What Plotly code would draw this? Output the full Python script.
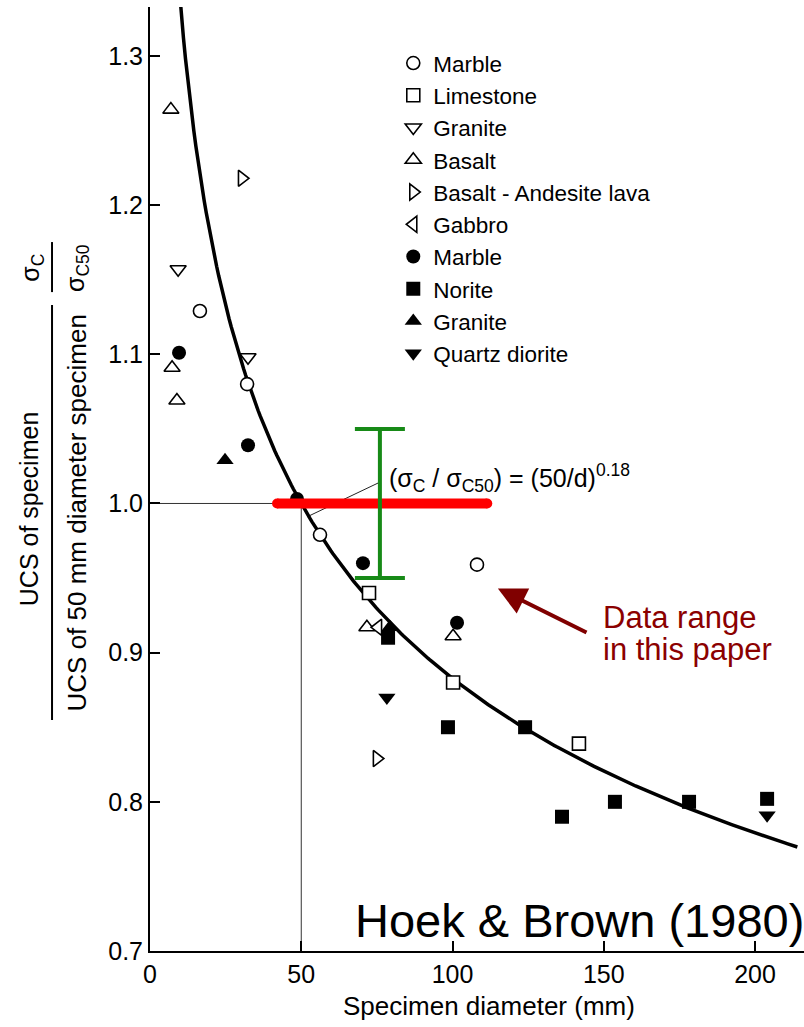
import numpy as np
import plotly.graph_objects as go

# Specimen diameter d (mm) and strength ratio sigma_c / sigma_c50 for each rock type
marble_open_d = [16.5, 32.1, 56.2, 108.1]
marble_open_r = [1.129, 1.080, 0.979, 0.959]
limestone_d = [72.4, 100.2, 141.8]
limestone_r = [0.940, 0.880, 0.839]
granite_open_d = [9.3, 32.4]
granite_open_r = [1.157, 1.098]
basalt_d = [6.9, 7.3, 8.9, 71.7, 100.2]
basalt_r = [1.264, 1.091, 1.069, 0.917, 0.911]
andesite_d = [30.4, 75.0]
andesite_r = [1.218, 0.829]
gabbro_d = [75.4]
gabbro_r = [0.917]
marble_solid_d = [9.6, 32.4, 48.6, 70.4, 101.5]
marble_solid_r = [1.101, 1.039, 1.003, 0.960, 0.920]
norite_d = [78.7, 98.5, 124.0, 136.2, 153.7, 178.2, 204.0]
norite_r = [0.910, 0.850, 0.850, 0.790, 0.800, 0.800, 0.802]
granite_solid_d = [24.8, 79.3]
granite_solid_r = [1.029, 0.917]
diorite_d = [78.3, 204.0]
diorite_r = [0.870, 0.791]

# Size-effect law (sigma_c / sigma_c50) = (50 / d) ** k
ref_diameter = 50.0
exponent = 0.18
curve_d = np.linspace(9.0, 214.0, 300)
curve_r = (ref_diameter / curve_d) ** exponent

# Range of diameters and scatter band covered by the present data
range_d = [42.0, 111.5]
range_r = [1.0, 1.0]
band_d = [76.0]
band_r = [1.0]
band_err = [0.05]

FONT = "Liberation Sans, Arial, Helvetica, sans-serif"
fig = go.Figure()

# reference lines through d = 50 mm, ratio = 1
fig.add_shape(type="line", x0=0, x1=ref_diameter, y0=1.0, y1=1.0,
              line=dict(color="#333", width=1), layer="below")
fig.add_shape(type="line", x0=ref_diameter, x1=ref_diameter, y0=0.7, y1=1.0,
              line=dict(color="#333", width=1), layer="below")
# leader from the equation to the curve
fig.add_shape(type="line", x0=51.9, y0=0.991, x1=75.4, y1=1.0137,
              line=dict(color="#222", width=1), layer="below")

fig.add_trace(go.Scatter(x=curve_d, y=curve_r, mode="lines",
                         line=dict(color="black", width=3.5),
                         showlegend=False, hoverinfo="skip"))

def open_series(name, xs, ys, symbol, size):
    fig.add_trace(go.Scatter(
        x=xs, y=ys, mode="markers", name=name,
        marker=dict(symbol=symbol, size=size, color="white",
                    line=dict(color="black", width=1.6))))

def solid_series(name, xs, ys, symbol, size):
    fig.add_trace(go.Scatter(
        x=xs, y=ys, mode="markers", name=name,
        marker=dict(symbol=symbol, size=size, color="black",
                    line=dict(color="black", width=0))))

open_series("Marble", marble_open_d, marble_open_r, "circle", 13)
open_series("Limestone", limestone_d, limestone_r, "square", 13)
open_series("Granite", granite_open_d, granite_open_r, "triangle-down", 14)
open_series("Basalt", basalt_d, basalt_r, "triangle-up", 14)
open_series("Basalt - Andesite lava", andesite_d, andesite_r, "triangle-right", 14)
open_series("Gabbro", gabbro_d, gabbro_r, "triangle-left", 14)
solid_series("Marble", marble_solid_d, marble_solid_r, "circle", 14)
solid_series("Norite", norite_d, norite_r, "square", 14)
solid_series("Granite", granite_solid_d, granite_solid_r, "triangle-up", 15)
solid_series("Quartz diorite", diorite_d, diorite_r, "triangle-down", 15)

# red bar: diameters tested in this paper
fig.add_trace(go.Scatter(x=range_d, y=range_r, mode="lines+markers",
                         line=dict(color="#ff0000", width=10),
                         marker=dict(color="#ff0000", size=10, line=dict(width=0)),
                         showlegend=False, hoverinfo="skip"))
# green bar: scatter of the ratio
fig.add_trace(go.Scatter(x=band_d, y=band_r, mode="markers",
                         marker=dict(size=1, color="rgba(0,0,0,0)"),
                         error_y=dict(type="data", array=band_err, visible=True,
                                      color="#178a17", thickness=4, width=25),
                         showlegend=False, hoverinfo="skip"))


def label(text, x, y, size, color="black", angle=0, xanchor="center", xref="paper", yref="paper"):
    return dict(text=text, x=x, y=y, xref=xref, yref=yref, xanchor=xanchor, yanchor="middle",
                textangle=angle, showarrow=False,
                font=dict(size=size, color=color, family=FONT))


ann = [
    # y-axis title built as two stacked fractions
    label("UCS of specimen", -0.185, 0.468, 25, angle=-90),
    label("UCS of 50 mm diameter specimen", -0.1116, 0.4635, 26, angle=-90),
    label("σ<sub>C</sub>", -0.181, 0.7235, 25, angle=-90),
    label("σ<sub>C50</sub>", -0.1116, 0.7235, 25, angle=-90),
    # x-axis title
    label("Specimen diameter (mm)", 0.518, -0.0583, 26),
    # equation label
    label("(σ<sub>C</sub> / σ<sub>C50</sub>) = (50/d)<sup>0.18</sup>", 0.362, 0.501, 25,
          xanchor="left"),
    # data range note with arrow
    dict(text="", x=115.0, y=0.943, ax=144.8, ay=0.913, axref="x", ayref="y",
         xref="x", yref="y", showarrow=True, arrowhead=2, arrowsize=1.4,
         arrowwidth=4, arrowcolor="#800000"),
    label("Data range", 0.6896, 0.3538, 31, color="#8b0000", xanchor="left"),
    label("in this paper", 0.6896, 0.3189, 31, color="#8b0000", xanchor="left"),
    label("Hoek & Brown (1980)", 0.3104, 0.0328, 47, xanchor="left"),
]

# fraction bars of the y-axis title
fig.add_shape(type="line", xref="paper", yref="paper", x0=-0.1498, x1=-0.1498,
              y0=0.2447, y1=0.6843, line=dict(color="black", width=2))
fig.add_shape(type="line", xref="paper", yref="paper", x0=-0.1498, x1=-0.1498,
              y0=0.698, y1=0.751, line=dict(color="black", width=2))

fig.update_layout(
    width=804, height=1027,
    margin=dict(l=150, r=0, t=7, b=76),
    paper_bgcolor="white", plot_bgcolor="white",
    font=dict(family=FONT, color="black"),
    annotations=ann,
    legend=dict(x=0.372, y=0.963, xanchor="left", yanchor="top",
                bgcolor="rgba(0,0,0,0)", font=dict(size=22.5, color="black", family=FONT)),
    xaxis=dict(range=[0, 216.2], dtick=50, tick0=0, showline=True, linecolor="black",
               linewidth=2, ticks="inside", ticklen=10, tickwidth=1.5, tickcolor="black",
               showgrid=False, zeroline=False, tickfont=dict(size=25, family=FONT)),
    yaxis=dict(range=[0.7, 1.3328], dtick=0.1, tick0=0.7, tickformat=".1f", showline=True,
               linecolor="black", linewidth=2, ticks="inside", ticklen=10, tickwidth=1.5,
               tickcolor="black", showgrid=False, zeroline=False,
               tickfont=dict(size=25, family=FONT)),
)

fig.write_html("out.html")
